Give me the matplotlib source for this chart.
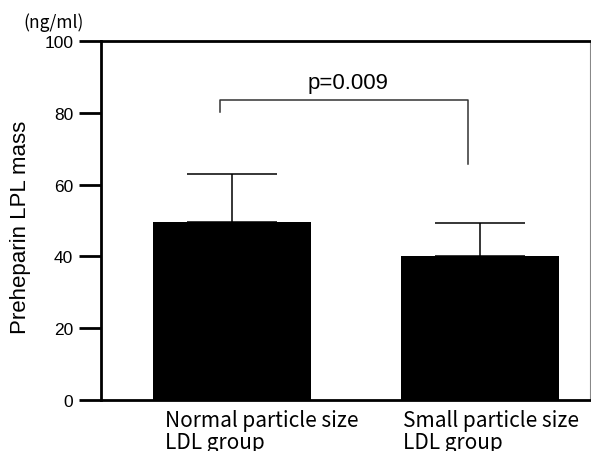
import numpy as np
import matplotlib.pyplot as plt
import matplotlib.transforms as mtransforms

# datos
grupos = ["Normal particle size\nLDL group", "Small particle size\nLDL group"]
medias = [49.6, 40.1]
desvios = [13.4, 9.2]
valor_p = "p=0.009"
altura_corchete = 83.6
patas_corchete = [80.2, 65.7]
ticks_y = [0, 20, 40, 60, 80, 100]

x = np.arange(len(grupos))

fig = plt.figure(figsize=(5.91, 4.52), dpi=100)
ax = fig.add_axes([101 / 591, 51 / 452, 489 / 591, 359 / 452])

#barras con error solo hacia arriba
ax.bar(x, medias, width=0.635, color="black", zorder=2)
ax.errorbar(x, medias, yerr=[[0, 0], desvios], fmt="none", ecolor="black",
            elinewidth=1.1, capsize=32.5, capthick=1.1, zorder=1)

#corchete de significancia
xc = [x[0] - 0.05, x[0] - 0.05, x[1] - 0.05, x[1] - 0.05]
yc = [patas_corchete[0], altura_corchete, altura_corchete, patas_corchete[1]]
ax.plot(xc, yc, color="#333333", lw=1.1)
ax.text((xc[0] + xc[-1]) / 2 + 0.02, altura_corchete + 2.0, valor_p,
        ha="center", va="bottom", fontsize=16, family="Liberation Sans")

ax.set_xlim(-0.528, 1.444)
ax.set_ylim(0, 100)
ax.set_yticks(ticks_y)
ax.set_yticklabels([str(t) for t in ticks_y], fontsize=12.5, family="Liberation Sans")
ax.tick_params(axis="y", length=16, width=2, pad=4)
ax.set_xticks([])

for lado in ["top", "bottom", "left"]:
    ax.spines[lado].set_linewidth(2)
ax.spines["right"].set_linewidth(0.8)
ax.spines["right"].set_color("#888888")

ax.set_ylabel("Preheparin LPL mass", fontsize=16, family="Liberation Sans")
ax.yaxis.set_label_coords(-0.143, 0.485)

#etiquetas de grupo alineadas a la izquierda
trans = mtransforms.blended_transform_factory(ax.transData, ax.transAxes)
desplazamientos = [-0.27, -0.31]
for i, g in enumerate(grupos):
    ax.text(x[i] + desplazamientos[i], -0.025, g, transform=trans, ha="left", va="top",
            fontsize=15, family="Noto Sans CJK JP", linespacing=1.0)

fig.text(23 / 591, 1 - 23 / 452, "(ng/ml)", ha="left", va="center", fontsize=12.5,
         family="Noto Sans CJK JP")

fig.savefig("out.png", dpi=100)
